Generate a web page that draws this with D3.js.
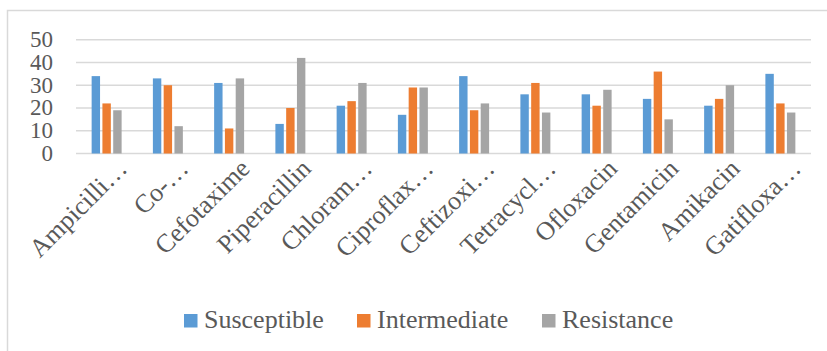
<!DOCTYPE html>
<html>
<head>
<meta charset="utf-8">
<script src="https://cdn.jsdelivr.net/npm/d3@7"></script>
<style>
  body { margin: 0; background: #fff; }
  svg text { font-family: 'Liberation Serif', 'Times New Roman', 'DejaVu Serif', serif; }
</style>
</head>
<body>
<svg class="chart" width="827" height="351"></svg>
<script>
const categories = ['Ampicilli…', 'Co-…', 'Cefotaxime', 'Piperacillin', 'Chloram…', 'Ciproflax…',
    'Ceftizoxi…', 'Tetracycl…', 'Ofloxacin', 'Gentamicin', 'Amikacin', 'Gatifloxa…'];
const seriesNames = ['Susceptible', 'Intermediate', 'Resistance'];
const susceptible = [34, 33, 31, 13, 21, 17, 34, 26, 26, 24, 21, 35];
const intermediate = [22, 30, 11, 20, 23, 29, 19, 31, 21, 36, 24, 22];
const resistance = [19, 12, 33, 42, 31, 29, 22, 18, 28, 15, 30, 18];
const yTicks = [0, 10, 20, 30, 40, 50];
const colors = ['#5b9bd5', '#ed7d31', '#a5a5a5'];

const FONT = "'Liberation Serif', 'Times New Roman', 'DejaVu Serif', serif";

const svg = d3.select('.chart');
const margin = { left: 76, right: 16 };
const width = 827 - margin.left - margin.right;
const y0 = 153.5;

// chart border (only left and top visible)
svg.append('path')
    .attr('d', 'M7.5,351 V10.5 H827')
    .attr('fill', 'none')
    .attr('stroke', '#d9d9d9')
    .attr('stroke-width', 1.5);

const xs = d3.scaleBand().domain(categories).range([margin.left, margin.left + width]);
const xInner = d3.scaleBand().domain(seriesNames).range([0, xs.bandwidth()]).paddingInner(0.22).paddingOuter(1.45);
const ys = d3.scaleLinear().domain([0, 50]).range([y0, 39.7]);

svg.append('g')
    .selectAll('line')
    .data(yTicks)
    .enter()
    .append('line')
    .attr('x1', margin.left)
    .attr('x2', margin.left + width)
    .attr('y1', d => ys(d))
    .attr('y2', d => ys(d))
    .attr('stroke', '#d9d9d9')
    .attr('stroke-width', 1.5);

svg.append('g')
    .selectAll('text')
    .data(yTicks)
    .enter()
    .append('text')
    .attr('x', 53)
    .attr('y', d => ys(d) + 7.5)
    .attr('text-anchor', 'end')
    .attr('fill', '#595959')
    .attr('font-family', FONT)
    .style('font-size', '23px')
    .text(d => d);

const series = [susceptible, intermediate, resistance];
const rows = categories.map((c, i) => ({ cat: c, vals: series.map(s => s[i]) }));

const groups = svg.append('g')
    .selectAll('g')
    .data(rows)
    .enter()
    .append('g')
    .attr('transform', d => `translate(${xs(d.cat)},0)`);

groups.selectAll('rect')
    .data(d => d.vals.map((v, j) => ({ name: seriesNames[j], v, j })))
    .enter()
    .append('rect')
    .attr('x', d => xInner(d.name))
    .attr('width', xInner.bandwidth())
    .attr('y', d => ys(d.v))
    .attr('height', d => y0 - ys(d.v))
    .attr('fill', d => colors[d.j]);

// rotated category labels
svg.append('g')
    .selectAll('text')
    .data(categories)
    .enter()
    .append('text')
    .attr('transform', d => `translate(${xs(d) + xs.bandwidth() / 2 + 22},170) rotate(-45)`)
    .attr('text-anchor', 'end')
    .attr('fill', '#595959')
    .attr('font-family', FONT)
    .style('font-size', '26px')
    .text(d => d);

// legend
const legendX = [184, 357, 542];
const legend = svg.append('g')
    .selectAll('g')
    .data(seriesNames)
    .enter()
    .append('g')
    .attr('transform', (d, i) => `translate(${legendX[i]},314)`);

legend.append('rect')
    .attr('width', 13.5)
    .attr('height', 13.5)
    .attr('fill', (d, i) => colors[i]);

legend.append('text')
    .attr('x', 20)
    .attr('y', 13.5)
    .attr('fill', '#595959')
    .attr('font-family', FONT)
    .style('font-size', '26px')
    .text(d => d);
</script>
</body>
</html>
